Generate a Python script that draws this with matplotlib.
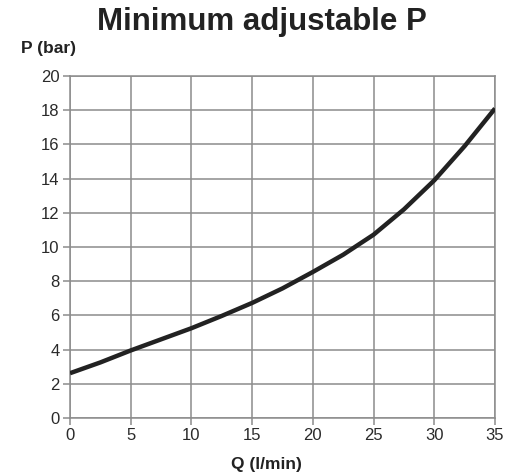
import matplotlib.pyplot as plt

plt.rcParams['font.family'] = ['Liberation Sans', 'DejaVu Sans']

# values
q = [0, 2.5, 5, 7.5, 10, 12.5, 15, 17.5, 20, 22.5, 25, 27.5, 30, 32.5, 35]
p = [2.62, 3.25, 3.95, 4.6, 5.25, 5.97, 6.73, 7.58, 8.54, 9.55, 10.72, 12.2, 13.9, 15.9, 18.1]

xticks = list(range(0, 36, 5))
yticks = list(range(0, 21, 2))

fig = plt.figure(figsize=(5.13, 4.74), dpi=100)
ax = fig.add_axes([70 / 513, 56 / 474, 425 / 513, 342 / 474])

ax.plot(q, p, color="#222222", linewidth=3.2, solid_capstyle="butt",
        solid_joinstyle="round", zorder=3)

ax.set_xlim(0, 35)
ax.set_ylim(0, 20)
ax.set_xticks(xticks)
ax.set_yticks(yticks)
ax.grid(True, color="#8c8c8c", linewidth=1.1)
ax.set_axisbelow(True)
for s in ax.spines.values():
    s.set_color("#8c8c8c")
    s.set_linewidth(1.1)
ax.tick_params(colors="#8c8c8c", labelcolor="#2a2a2a", labelsize=12, length=5, width=1.1, pad=2.5)

fig.text(262 / 513, 1 - 22 / 474, "Minimum adjustable P", ha="center", va="center",
         fontsize=22.5, fontweight="bold", color="#222222")
fig.text(21 / 513, 1 - 48 / 474, "P (bar)", ha="left", va="center",
         fontsize=12.5, fontweight="bold", color="#222222")
fig.text(266 / 513, 1 - 464 / 474, "Q (l/min)", ha="center", va="center",
         fontsize=12.5, fontweight="bold", color="#222222")

fig.savefig("out.png", dpi=100)
